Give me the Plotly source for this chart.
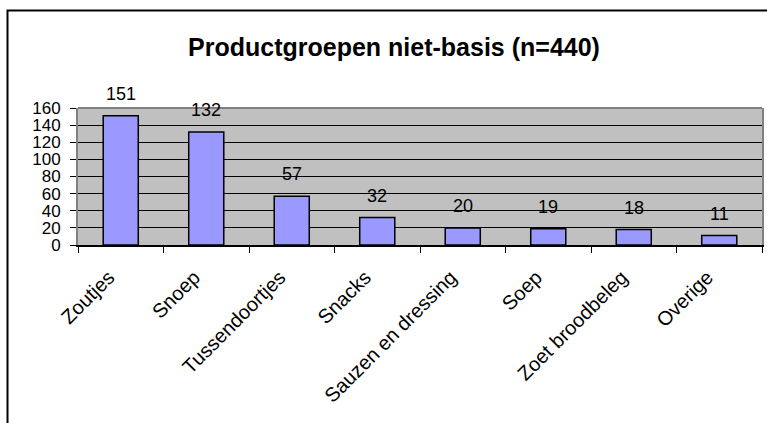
import plotly.graph_objects as go

categories = ["Zoutjes", "Snoep", "Tussendoortjes", "Snacks", "Sauzen en dressing",
              "Soep", "Zoet broodbeleg", "Overige"]
values = [151, 132, 57, 32, 20, 19, 18, 11]
y_ticks = [0, 20, 40, 60, 80, 100, 120, 140, 160]
title_text = "Productgroepen niet-basis (n=440)"

FONT = "Liberation Sans, Arial, sans-serif"

W, H = 767, 423
L, R, T, B = 78, 5, 108, 178
pw = W - L - R
ph = H - T - B

fig = go.Figure(go.Bar(
    x=categories, y=values,
    marker=dict(color="#9999FF", line=dict(color="black", width=1.5)),
    cliponaxis=False,
))

annotations = []
for c, v in zip(categories, values):
    annotations.append(dict(x=c, y=v, xref="x", yref="y", text=str(v), showarrow=False,
                            yanchor="middle", yshift=22,
                            font=dict(family=FONT, size=18, color="black")))

def px_x(p):
    return (p - L) / pw

def px_y(p):
    return (H - B - p) / ph

shapes = [
    dict(type="line", xref="paper", yref="paper", x0=0, x1=1, y0=1, y1=1,
         line=dict(color="#808080", width=2), layer="above"),
    dict(type="rect", xref="paper", yref="paper",
         x0=px_x(7.5), x1=px_x(W + 10), y0=px_y(H + 10), y1=px_y(10.5),
         line=dict(color="black", width=2), fillcolor="rgba(0,0,0,0)", layer="above"),
]

fig.update_layout(
    width=W, height=H,
    margin=dict(l=L, r=R, t=T, b=B, autoexpand=False),
    paper_bgcolor="white",
    plot_bgcolor="#C0C0C0",
    bargap=0.59,
    showlegend=False,
    title=dict(text=f"<b>{title_text}</b>", x=394 / W, y=1 - 47 / H,
               xanchor="center", yanchor="middle", xref="container", yref="container",
               font=dict(family=FONT, size=25, color="black")),
    annotations=annotations,
    shapes=shapes,
    font=dict(family=FONT, color="black"),
)

fig.update_xaxes(
    type="category", tickson="boundaries", ticks="outside", ticklen=6,
    tickcolor="black", tickwidth=1, tickangle=-45, automargin=False,
    showline=True, linecolor="black", linewidth=1.5, showgrid=False,
    ticklabelstandoff=11, ticklabelshift=-12,
    tickfont=dict(family=FONT, size=20, color="black"),
)
fig.update_yaxes(
    range=[0, 160], tickvals=y_ticks, ticktext=[str(t) for t in y_ticks],
    ticks="outside", ticklen=6, tickcolor="black", tickwidth=1, automargin=False,
    showgrid=True, gridcolor="black", gridwidth=1,
    showline=True, linecolor="#808080", linewidth=2, mirror=True,
    zeroline=False, ticklabelstandoff=6,
    tickfont=dict(family=FONT, size=17, color="black"),
)

fig.write_html("out.html", config={"displayModeBar": False},
               post_script="document.body.style.margin='0';")
